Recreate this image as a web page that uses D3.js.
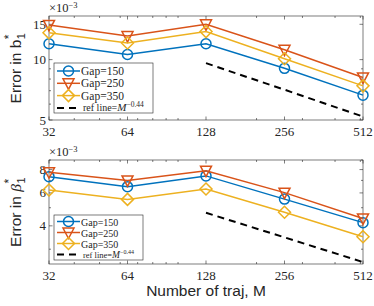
<!DOCTYPE html>
<html>
<head>
<meta charset="utf-8">
<script src="https://cdn.jsdelivr.net/npm/d3@7"></script>
<style>
  body { margin: 0; background: #fff; }
  svg { display: block; }
</style>
</head>
<body>
<svg id="chart" width="374" height="306"></svg>
<script>
// number of trajectories
var trajM = [32, 64, 128, 256, 512];
var refM = [128, 256, 512];

// top panel, error in b1* (x1e-3)
var b1Gap150 = [12.0, 10.6, 12.0, 9.05, 6.65];
var b1Gap250 = [14.9, 13.1, 15.0, 11.2, 8.15];
var b1Gap350 = [13.6, 12.1, 13.8, 10.1, 7.4];
var b1Ref = [9.6, 7.08, 5.2];

// bottom panel, error in beta1* (x1e-3)
var betaGap150 = [7.33, 6.48, 7.4, 5.56, 4.16];
var betaGap250 = [7.74, 7.0, 7.89, 6.02, 4.38];
var betaGap350 = [6.22, 5.54, 6.3, 4.73, 3.5];
var betaRef = [4.7, 3.47, 2.56];

var gapNames = ['Gap=150', 'Gap=250', 'Gap=350'];
var colors = ['#0072BD', '#D95319', '#EDB120'];
var shapes = ['circle', 'tri', 'diamond'];

var svg = d3.select('#chart');
var serif = '"Liberation Serif", "DejaVu Serif", serif';
var sans = '"Liberation Sans", Arial, sans-serif';

var x = d3.scaleLog().base(2).domain([32, 512]).range([49, 363]);
var xMinor = [40, 50, 60, 70, 80, 90, 100, 200, 300, 400, 500];

function marker(g, shape, cx, cy, col) {
  if (shape == 'circle') {
    g.append('circle').attr('cx', cx).attr('cy', cy).attr('r', 5)
      .attr('fill', 'none').attr('stroke', col).attr('stroke-width', 1.5);
  } else if (shape == 'tri') {
    g.append('path')
      .attr('d', `M${cx - 5.5},${cy - 4.5}L${cx + 5.5},${cy - 4.5}L${cx},${cy + 6}Z`)
      .attr('fill', 'none').attr('stroke', col).attr('stroke-width', 1.5);
  } else {
    g.append('path')
      .attr('d', `M${cx},${cy - 6}L${cx + 6},${cy}L${cx},${cy + 6}L${cx - 6},${cy}Z`)
      .attr('fill', 'none').attr('stroke', col).attr('stroke-width', 1.5);
  }
}

function panel(o) {
  var g = svg.append('g');
  var y = d3.scaleLog().domain(o.ydom).range([o.bottom, o.top]);
  var x0 = x.range()[0], x1 = x.range()[1];

  // ticks inside the box
  var tk = g.append('g').attr('stroke', '#262626').attr('stroke-width', 0.6);
  trajM.forEach(function (m) {
    tk.append('line').attr('x1', x(m)).attr('x2', x(m)).attr('y1', o.bottom).attr('y2', o.bottom - 3.5);
    tk.append('line').attr('x1', x(m)).attr('x2', x(m)).attr('y1', o.top).attr('y2', o.top + 3.5);
  });
  xMinor.forEach(function (m) {
    tk.append('line').attr('x1', x(m)).attr('x2', x(m)).attr('y1', o.bottom).attr('y2', o.bottom - 2);
    tk.append('line').attr('x1', x(m)).attr('x2', x(m)).attr('y1', o.top).attr('y2', o.top + 2);
  });
  o.yticks.forEach(function (v) {
    tk.append('line').attr('x1', x0).attr('x2', x0 + 3.5).attr('y1', y(v)).attr('y2', y(v));
    tk.append('line').attr('x1', x1).attr('x2', x1 - 3.5).attr('y1', y(v)).attr('y2', y(v));
  });
  o.yminor.forEach(function (v) {
    tk.append('line').attr('x1', x0).attr('x2', x0 + 2).attr('y1', y(v)).attr('y2', y(v));
    tk.append('line').attr('x1', x1).attr('x2', x1 - 2).attr('y1', y(v)).attr('y2', y(v));
  });

  // box
  g.append('rect').attr('x', x0).attr('y', o.top).attr('width', x1 - x0).attr('height', o.bottom - o.top)
    .attr('fill', 'none').attr('stroke', '#262626').attr('stroke-width', 0.6);

  // tick labels
  g.selectAll('.xl').data(trajM).join('text')
    .attr('x', d => x(d)).attr('y', o.bottom + 16)
    .attr('text-anchor', 'middle').attr('font-family', serif).attr('font-size', 13).attr('fill', '#262626')
    .text(d => d);
  g.selectAll('.yl').data(o.yticks).join('text')
    .attr('x', x0 - 3).attr('y', d => y(d) + 4.5)
    .attr('text-anchor', 'end').attr('font-family', serif).attr('font-size', 13).attr('fill', '#262626')
    .text(d => d);

  // x10^-3
  var ex = g.append('text').attr('x', x0).attr('y', o.top - 4)
    .attr('font-family', serif).attr('font-size', 12.5).attr('fill', '#262626');
  ex.append('tspan').text('\u00d710');
  ex.append('tspan').attr('dy', -4.5).attr('font-size', 8.5).text('\u22123');

  // lines
  var line = d3.line().x(d => x(d[0])).y(d => y(d[1]));
  o.series.forEach(function (s, i) {
    var pts = trajM.map((m, j) => [m, s[j]]);
    g.append('path').attr('d', line(pts)).attr('fill', 'none')
      .attr('stroke', colors[i]).attr('stroke-width', 1.5);
    pts.forEach(p => marker(g, shapes[i], x(p[0]), y(p[1]), colors[i]));
  });
  g.append('path').attr('d', line(refM.map((m, j) => [m, o.ref[j]])))
    .attr('fill', 'none').attr('stroke', '#000').attr('stroke-width', 2)
    .attr('stroke-dasharray', '7,5');

  // legend
  var L = o.leg;
  var lg = g.append('g');
  lg.append('rect').attr('x', L.x).attr('y', L.y).attr('width', L.w).attr('height', L.h)
    .attr('fill', '#fff').attr('stroke', '#262626').attr('stroke-width', 0.6);
  gapNames.forEach(function (nm, i) {
    var yy = L.y + L.first + i * L.step;
    lg.append('line').attr('x1', L.x + 3).attr('x2', L.x + 26).attr('y1', yy).attr('y2', yy)
      .attr('stroke', colors[i]).attr('stroke-width', 1.5);
    marker(lg, shapes[i], L.x + 14.5, yy, colors[i]);
    lg.append('text').attr('x', L.x + 27).attr('y', yy + 4)
      .attr('font-family', serif).attr('font-size', L.fs).attr('fill', '#262626').text(nm);
  });
  var yr = L.y + L.first + 3 * L.step;
  lg.append('line').attr('x1', L.x + 3).attr('x2', L.x + 26).attr('y1', yr).attr('y2', yr)
    .attr('stroke', '#000').attr('stroke-width', 2).attr('stroke-dasharray', '7,5');
  var rt = lg.append('text').attr('x', L.x + 29).attr('y', yr + 3.5)
    .attr('font-family', serif).attr('font-size', L.fs - 1.5).attr('fill', '#262626');
  rt.append('tspan').text('ref line=');
  rt.append('tspan').attr('font-style', 'italic').attr('font-size', L.fs - 0.5).text('M');
  rt.append('tspan').attr('dy', -4).attr('font-size', L.fs - 4).text('\u22120.44');

  // y label
  var cy = (o.top + o.bottom) / 2;
  var yl = g.append('g').attr('transform', `translate(21,${cy}) rotate(-90)`);
  var t = yl.append('text').attr('font-family', sans).attr('font-size', 15.5).attr('fill', '#262626');
  t.append('tspan').text('Error in ');
  t.append('tspan').attr('font-family', o.symFont).attr('font-style', o.symStyle).text(o.sym);
  var w = t.node().getComputedTextLength();
  t.attr('x', -(w + 7) / 2);
  yl.append('text').attr('x', -(w + 7) / 2 + w + 0.5).attr('y', 4)
    .attr('font-family', sans).attr('font-size', 11).attr('fill', '#262626').text('1');
  yl.append('text').attr('x', -(w + 7) / 2 + w + 0.5).attr('y', -8)
    .attr('font-family', sans).attr('font-size', 12).attr('fill', '#262626').text('*');
}

panel({
  top: 16, bottom: 120, ydom: [5, 16.5],
  yticks: [5, 10, 15], yminor: [6, 7, 8, 9],
  series: [b1Gap150, b1Gap250, b1Gap350], ref: b1Ref,
  sym: 'b', symFont: sans, symStyle: 'normal',
  leg: { x: 54, y: 63, w: 99, h: 50, first: 8, step: 12.3, fs: 11.5 }
});
panel({
  top: 160, bottom: 264, ydom: [2.5, 9],
  yticks: [4, 6, 8], yminor: [3, 5, 7, 9],
  series: [betaGap150, betaGap250, betaGap350], ref: betaRef,
  sym: '\u03b2', symFont: serif, symStyle: 'italic',
  leg: { x: 54, y: 215, w: 89, h: 45, first: 6.5, step: 11, fs: 10 }
});

svg.append('text').attr('x', 206).attr('y', 296).attr('text-anchor', 'middle')
  .attr('font-family', sans).attr('font-size', 15.5).attr('fill', '#262626')
  .text('Number of traj, M');
</script>
</body>
</html>
